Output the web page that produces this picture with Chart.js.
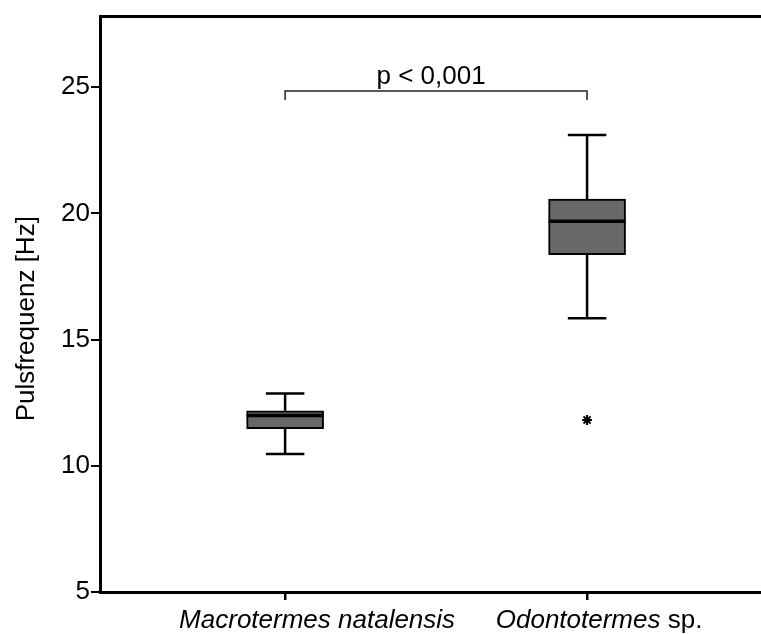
<!DOCTYPE html>
<html>
<head>
<meta charset="utf-8">
<script src="https://cdn.jsdelivr.net/npm/chart.js@4/dist/chart.umd.min.js"></script>
<style>
  html, body { margin: 0; padding: 0; background: #fff; }
  #wrap { width: 761px; height: 634px; }
</style>
</head>
<body>
<div id="wrap"><canvas id="pulseChart"></canvas></div>
<script>
// box plot values (Hz)
const categories = ['Macrotermes natalensis', 'Odontotermes sp.'];
const whiskerLow = [10.47, 15.85];
const q1 = [11.47, 18.37];
const medians = [11.99, 19.69];
const q3 = [12.18, 20.57];
const whiskerHigh = [12.87, 23.11];
const outlierGroup = [1];
const outlierValue = [11.82];
const yTicks = [5, 10, 15, 20, 25];
const bracketLevel = 24.85;
const bracketEnd = 24.5;
const pLabel = 'p < 0,001';

const FONT = '"Liberation Sans", Arial, Helvetica, sans-serif';
const labelShift = [32, 12];

/**
 * Whiskers, caps, medians, the significance bracket and the x labels
 */
const boxPlotExtras = {
    id: 'boxPlotExtras',
    afterDatasetsDraw(chart) {
        const { ctx, chartArea, scales: { x, y } } = chart;
        const bars = chart.getDatasetMeta(0).data;
        ctx.save();
        ctx.strokeStyle = '#000';
        ctx.lineCap = 'butt';

        categories.forEach((_, i) => {
            const cx = x.getPixelForValue(i + 1);
            const half = bars[i].width / 2;
            const cap = half / 2;

            ctx.lineWidth = 2.5;
            ctx.beginPath();
            ctx.moveTo(cx, y.getPixelForValue(whiskerHigh[i]));
            ctx.lineTo(cx, y.getPixelForValue(q3[i]));
            ctx.moveTo(cx, y.getPixelForValue(q1[i]));
            ctx.lineTo(cx, y.getPixelForValue(whiskerLow[i]));
            ctx.moveTo(cx - cap, y.getPixelForValue(whiskerHigh[i]));
            ctx.lineTo(cx + cap, y.getPixelForValue(whiskerHigh[i]));
            ctx.moveTo(cx - cap, y.getPixelForValue(whiskerLow[i]));
            ctx.lineTo(cx + cap, y.getPixelForValue(whiskerLow[i]));
            ctx.stroke();

            ctx.lineWidth = 3.5;
            ctx.beginPath();
            ctx.moveTo(cx - half, y.getPixelForValue(medians[i]));
            ctx.lineTo(cx + half, y.getPixelForValue(medians[i]));
            ctx.stroke();
        });

        // bracket between the two groups
        const bx1 = x.getPixelForValue(1);
        const bx2 = x.getPixelForValue(2);
        const by = y.getPixelForValue(bracketLevel);
        const byEnd = y.getPixelForValue(bracketEnd);
        ctx.lineWidth = 1.5;
        ctx.strokeStyle = '#222';
        ctx.beginPath();
        ctx.moveTo(bx1, byEnd);
        ctx.lineTo(bx1, by);
        ctx.lineTo(bx2, by);
        ctx.lineTo(bx2, byEnd);
        ctx.stroke();

        ctx.fillStyle = '#000';
        ctx.font = '26px ' + FONT;
        ctx.textAlign = 'center';
        ctx.textBaseline = 'alphabetic';
        ctx.fillText(pLabel, (bx1 + bx2) / 2 - 5, by - 7);

        // category labels: genus/species in italics, "sp." upright
        ctx.textAlign = 'left';
        categories.forEach((label, i) => {
            const parts = label.split(' ').map((w, k, arr) => ({
                text: w + (k < arr.length - 1 ? ' ' : ''),
                font: (w === 'sp.' ? '' : 'italic ') + '26px ' + FONT
            }));
            let total = 0;
            parts.forEach(p => { ctx.font = p.font; p.w = ctx.measureText(p.text).width; total += p.w; });
            let px = x.getPixelForValue(i + 1) + labelShift[i] - total / 2;
            const py = chartArea.bottom + 36;
            parts.forEach(p => { ctx.font = p.font; ctx.fillText(p.text, px, py); px += p.w; });
        });

        // frame line along the top
        ctx.strokeStyle = '#000';
        ctx.lineWidth = 3;
        ctx.beginPath();
        ctx.moveTo(chartArea.left, chartArea.top);
        ctx.lineTo(chartArea.right + 10, chartArea.top);
        ctx.stroke();
        ctx.restore();
    }
};

const ctxEl = document.getElementById('pulseChart');
new Chart(ctxEl, {
    type: 'bar',
    data: {
        datasets: [{
            label: 'IQR',
            data: categories.map((_, i) => ({ x: i + 1, y: [q1[i], q3[i]] })),
            backgroundColor: '#686868',
            borderColor: '#000',
            borderWidth: 2,
            borderSkipped: false,
            barThickness: 77
        }, {
            type: 'scatter',
            label: 'Outlier',
            data: outlierGroup.map((g, k) => ({ x: g + 1, y: outlierValue[k] })),
            pointStyle: 'star',
            radius: 5,
            borderColor: '#000',
            backgroundColor: '#000',
            borderWidth: 2
        }]
    },
    options: {
        responsive: true,
        maintainAspectRatio: false,
        animation: false,
        layout: { autoPadding: false, padding: { top: 13, right: 0, bottom: 0, left: 0 } },
        plugins: {
            legend: { display: false },
            tooltip: { enabled: false }
        },
        scales: {
            x: {
                type: 'linear',
                offset: false,
                min: 0.387,
                max: 2.576,
                afterBuildTicks: scale => { scale.ticks = categories.map((_, i) => ({ value: i + 1 })); },
                afterFit: scale => { scale.height = 42; },
                ticks: { display: false },
                grid: { offset: false, drawOnChartArea: false, tickLength: 8, color: '#000', lineWidth: 2.5 },
                border: { color: '#000', width: 3 }
            },
            y: {
                min: 5,
                max: 27.8,
                afterBuildTicks: scale => { scale.ticks = yTicks.map(v => ({ value: v })); },
                afterFit: scale => { scale.width = 100; },
                ticks: { color: '#000', padding: 1, font: { family: FONT, size: 26 } },
                grid: { drawOnChartArea: false, tickLength: 9, color: '#000', lineWidth: 2 },
                border: { color: '#000', width: 3 },
                title: {
                    display: true,
                    text: 'Pulsfrequenz [Hz]    ',
                    color: '#000',
                    font: { family: FONT, size: 26 },
                    padding: { top: 11, bottom: 0 }
                }
            }
        }
    },
    plugins: [boxPlotExtras]
});
</script>
</body>
</html>
